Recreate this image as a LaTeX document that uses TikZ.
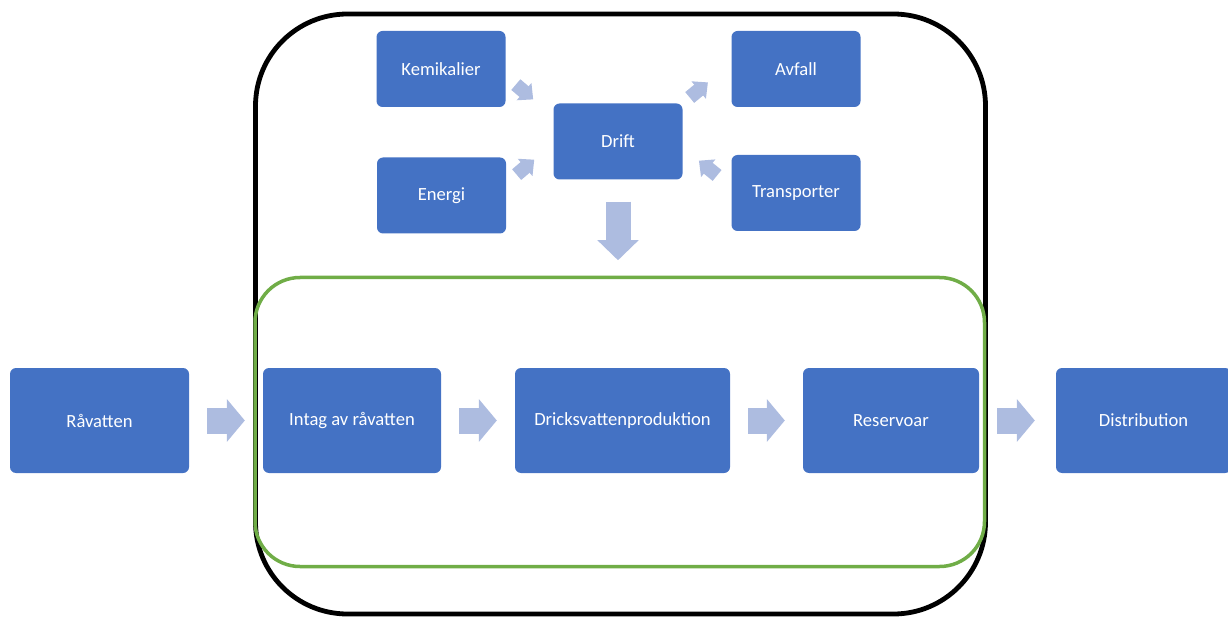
\documentclass[tikz,border=0pt]{standalone}
\usepackage{fontspec}
\setmainfont{Carlito}
\usetikzlibrary{arrows.meta}
\definecolor{boxblue}{HTML}{4472C4}
\definecolor{arrowblue}{HTML}{ADBCE0}
\definecolor{framegreen}{HTML}{70AD47}

\begin{document}
\begin{tikzpicture}[
    x=1pt, y=-1pt,
    box/.style={rectangle, rounded corners=6pt, fill=boxblue, text=white, inner sep=0pt},
    small/.style={box, minimum width=129pt, minimum height=76pt},
    large/.style={box, minimum height=105pt},
    flow/.style={arrowblue, line width=26pt, -{Triangle[length=18pt,width=42pt]},
        shorten <=18pt, shorten >=18pt},
    spoke/.style={arrowblue, line width=14pt, -{Triangle[length=12pt,width=22pt]}},
    every node/.style={font=\fontsize{18.6}{22}\selectfont}
]
\useasboundingbox (0,0) rectangle (1228,617);

% Frames
\node[draw, line width=4.8pt, rounded corners=92pt,
    minimum width=730pt, minimum height=600pt] (plant) at (620.5,314) {};
\node[draw=framegreen, line width=3.5pt, rounded corners=45pt,
    minimum width=729.5pt, minimum height=289pt] (proc) at (619.75,422) {};

% Operation
\node[small] (kem) at (441,69) {Kemikalier};
\node[small] (energi) at (441.5,195.5) {Energi};
\node[small] (drift) at (618,141.5) {Drift};
\node[small] (avfall) at (796,69) {Avfall};
\node[small] (transp) at (796,193) {Transporter};

\draw[spoke, shorten <=13.3pt, shorten >=26.4pt] ([shift={(0,7)}]kem.east) -- ([shift={(0,-25)}]drift.west);
\draw[spoke, shorten <=13.7pt, shorten >=25pt] ([shift={(0,-12)}]energi.east) -- ([shift={(0,2)}]drift.west);
\draw[spoke, shorten <=9.1pt, shorten >=30.4pt] (drift.north east) -- ([shift={(0,-6)}]avfall.west);
\draw[spoke, shorten <=18.3pt, shorten >=20.9pt] ([shift={(0,-6)}]transp.west) -- ([shift={(0,6)}]drift.east);

% Drift feeds the process
\draw[arrowblue, line width=25pt, -{Triangle[length=20pt,width=40pt]},
    shorten <=22pt, shorten >=15.5pt] (drift.south) -- (drift.south |- proc.north);

% Water chain
\node[large, minimum width=179pt] (raw) at (99.5,420.5) {Råvatten};
\node[large, minimum width=178pt] (intag) at (352,420.5) {Intag av råvatten};
\node[large, minimum width=215pt] (dricks) at (622.5,420.5) {Dricksvattenproduktion};
\node[large, minimum width=176pt] (reserv) at (891,420.5) {Reservoar};
\node[large, minimum width=175pt] (distr) at (1143.5,420.5) {Distribution};

\draw[flow] (raw) -- (intag);
\draw[flow] (intag) -- (dricks);
\draw[flow] (dricks) -- (reserv);
\draw[flow, shorten >=21pt] (reserv) -- (distr);

\end{tikzpicture}
\end{document}
